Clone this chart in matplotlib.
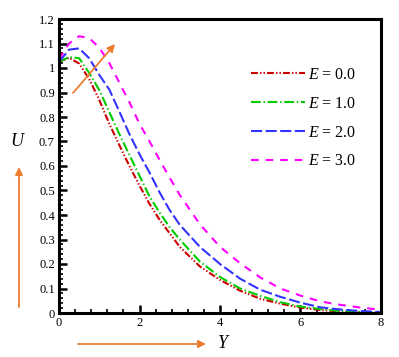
import matplotlib
matplotlib.use("Agg")
from matplotlib import pyplot as plt
from matplotlib.ticker import MultipleLocator, FuncFormatter

# datos
Y = [0, 0.25, 0.5, 0.75, 1.0, 1.25, 1.5, 1.75, 2.0, 2.25, 2.5, 2.75, 3.0,
     3.5, 4.0, 4.5, 5.0, 5.5, 6.0, 6.5, 7.0, 7.5, 8.0]
U_e0 = [1.025, 1.042, 1.018, 0.955, 0.87, 0.772, 0.685, 0.60, 0.52, 0.445,
        0.38, 0.325, 0.27, 0.19, 0.135, 0.091, 0.058, 0.038, 0.022, 0.012,
        0.006, 0.003, 0.0]
U_e1 = [1.025, 1.045, 1.04, 0.98, 0.91, 0.82, 0.73, 0.645, 0.56, 0.475,
        0.41, 0.35, 0.30, 0.21, 0.147, 0.10, 0.07, 0.044, 0.026, 0.016,
        0.008, 0.004, 0.001]
U_e2 = [1.025, 1.075, 1.08, 1.04, 0.972, 0.912, 0.822, 0.73, 0.648, 0.573,
        0.492, 0.42, 0.36, 0.27, 0.20, 0.14, 0.095, 0.066, 0.042, 0.023,
        0.014, 0.008, 0.004]
U_e3 = [1.035, 1.10, 1.13, 1.122, 1.083, 1.02, 0.94, 0.86, 0.772, 0.70,
        0.625, 0.552, 0.482, 0.362, 0.27, 0.203, 0.145, 0.10, 0.071, 0.047,
        0.033, 0.022, 0.013]
etiquetas = ["$E$ = 0.0", "$E$ = 1.0", "$E$ = 2.0", "$E$ = 3.0"]

plt.rcParams['font.family'] = 'Liberation Serif'
plt.rcParams['mathtext.fontset'] = 'custom'
plt.rcParams['mathtext.rm'] = 'Liberation Serif'
plt.rcParams['mathtext.it'] = 'Liberation Serif:italic'
plt.rcParams['lines.scale_dashes'] = False

naranja = '#ED7D31'

fig = plt.figure(figsize=(3.99, 3.57), dpi=100)
ax = fig.add_axes([59 / 399, 1 - 313 / 357, 322 / 399, 294 / 357])

ax.plot(Y, U_e0, color='#cc0000', lw=1.5, dashes=(5, 1.5, 1, 1.5, 1, 1.5), label=etiquetas[0])
ax.plot(Y, U_e1, color='#00cc00', lw=1.5, dashes=(7, 2, 1, 2), label=etiquetas[1])
ax.plot(Y, U_e2, color='#3333ff', lw=1.5, dashes=(8, 2.5), label=etiquetas[2])
ax.plot(Y, U_e3, color='#ff00ff', lw=1.5, dashes=(5.5, 5), label=etiquetas[3])

ax.set_xlim(0, 8)
ax.set_ylim(0, 1.2)
ax.xaxis.set_major_locator(MultipleLocator(2))
ax.xaxis.set_minor_locator(MultipleLocator(0.4))
ax.yaxis.set_major_locator(MultipleLocator(0.1))
ax.yaxis.set_minor_locator(MultipleLocator(0.02))
ax.yaxis.set_major_formatter(FuncFormatter(lambda v, p: f"{v:.1f}".rstrip('0').rstrip('.') if v else '0'))
ax.tick_params(which='both', direction='in', top=False, right=False,
               labelsize=9, pad=3)
ax.tick_params(which='major', length=6, width=1.8)
ax.tick_params(which='minor', length=3, width=1.2)
for lado in ax.spines.values():
    lado.set_linewidth(2.2)

ax.legend(loc='upper left', bbox_to_anchor=(251 / 399, 1 - 67 / 357),
          bbox_transform=fig.transFigure, frameon=False, fontsize=11.5,
          handlelength=3.4, handletextpad=0.15, labelspacing=0.8,
          borderpad=0, borderaxespad=0)

# etiquetas de los ejes y flechas
fig.text(17 / 399, 1 - 142 / 357, 'U', fontsize=13, style='italic',
         ha='center', va='center')
fig.text(223 / 399, 1 - 344 / 357, 'Y', fontsize=13, style='italic',
         ha='center', va='center')

flecha = dict(arrowstyle='-|>', color=naranja, lw=1.3, mutation_scale=11,
              shrinkA=0, shrinkB=0)
ax.annotate('', xy=(19, 357 - 167), xytext=(19, 357 - 307),
            xycoords='figure pixels', textcoords='figure pixels', arrowprops=flecha)
ax.annotate('', xy=(206, 357 - 344), xytext=(78, 357 - 344),
            xycoords='figure pixels', textcoords='figure pixels', arrowprops=flecha)
ax.annotate('', xy=(115, 357 - 44), xytext=(73, 357 - 93),
            xycoords='figure pixels', textcoords='figure pixels', arrowprops=flecha)

plt.savefig('out.png', dpi=100, facecolor='white')
